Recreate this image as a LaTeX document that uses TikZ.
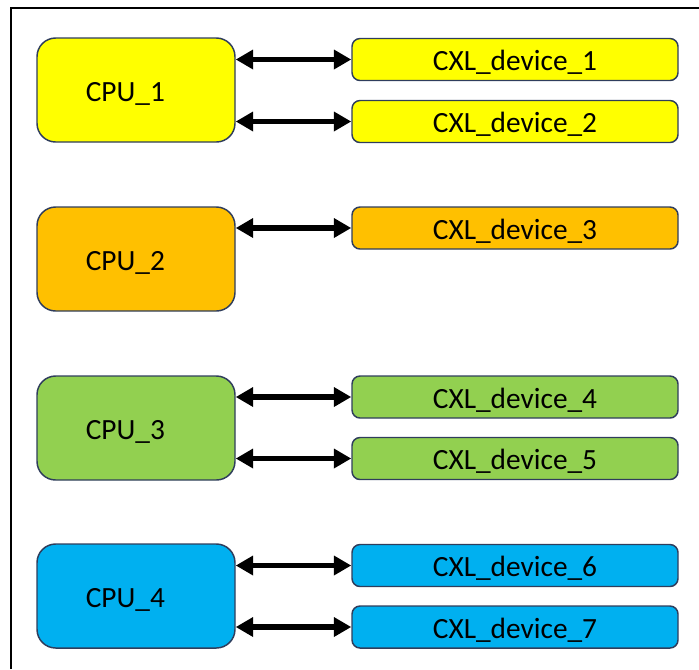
\documentclass[tikz,border=0pt]{standalone}
\usepackage{fontspec}
\setmainfont{Carlito}
\usetikzlibrary{arrows.meta}

\definecolor{cxlyellow}{HTML}{FFFF00}
\definecolor{cxlorange}{HTML}{FFC000}
\definecolor{cxlgreen}{HTML}{92D050}
\definecolor{cxlblue}{HTML}{00B0F0}
\definecolor{cxledge}{HTML}{2F3D5C}

\tikzset{
    cpu/.style={draw=cxledge, line width=1.1pt, rounded corners=14pt,
        minimum width=148.5pt, minimum height=78pt, inner sep=0pt,
        text height=18pt, text depth=1pt,
        font=\fontsize{22}{26}\selectfont, execute at end node={\hspace*{16pt}}},
    dev/.style={draw=cxledge, line width=1.1pt, rounded corners=6pt,
        minimum width=244.5pt, minimum height=31.5pt, inner sep=0pt,
        text height=17.5pt, text depth=1pt,
        font=\fontsize{22}{26}\selectfont},
    link/.style={{Triangle[length=13pt,width=14pt]}-{Triangle[length=13pt,width=14pt]}, line width=4pt}
}

\begin{document}
\begin{tikzpicture}[x=0.75pt, y=-0.75pt]
    \useasboundingbox (0,0) rectangle (699,669);
    % frame
    \draw[line width=2pt] (11,669) -- (11,8) -- (699,8);

    % CPUs
    \node[cpu, fill=cxlyellow] (cpu1) at (136,90) {CPU\_1};
    \node[cpu, fill=cxlorange] (cpu2) at (136,259) {CPU\_2};
    \node[cpu, fill=cxlgreen] (cpu3) at (136,428) {CPU\_3};
    \node[cpu, fill=cxlblue] (cpu4) at (136,596) {CPU\_4};

    % devices
    \node[dev, fill=cxlyellow] (dev1) at (515,59.5) {CXL\_device\_1};
    \node[dev, fill=cxlyellow] (dev2) at (515,121.5) {CXL\_device\_2};
    \node[dev, fill=cxlorange] (dev3) at (515,228) {CXL\_device\_3};
    \node[dev, fill=cxlgreen] (dev4) at (515,397) {CXL\_device\_4};
    \node[dev, fill=cxlgreen] (dev5) at (515,458.5) {CXL\_device\_5};
    \node[dev, fill=cxlblue] (dev6) at (515,565.5) {CXL\_device\_6};
    \node[dev, fill=cxlblue] (dev7) at (515,627) {CXL\_device\_7};

    % links
    \draw[link] (cpu1.east |- dev1.west) -- (dev1.west);
    \draw[link] (cpu1.east |- dev2.west) -- (dev2.west);
    \draw[link] (cpu2.east |- dev3.west) -- (dev3.west);
    \draw[link] (cpu3.east |- dev4.west) -- (dev4.west);
    \draw[link] (cpu3.east |- dev5.west) -- (dev5.west);
    \draw[link] (cpu4.east |- dev6.west) -- (dev6.west);
    \draw[link] (cpu4.east |- dev7.west) -- (dev7.west);
\end{tikzpicture}
\end{document}
